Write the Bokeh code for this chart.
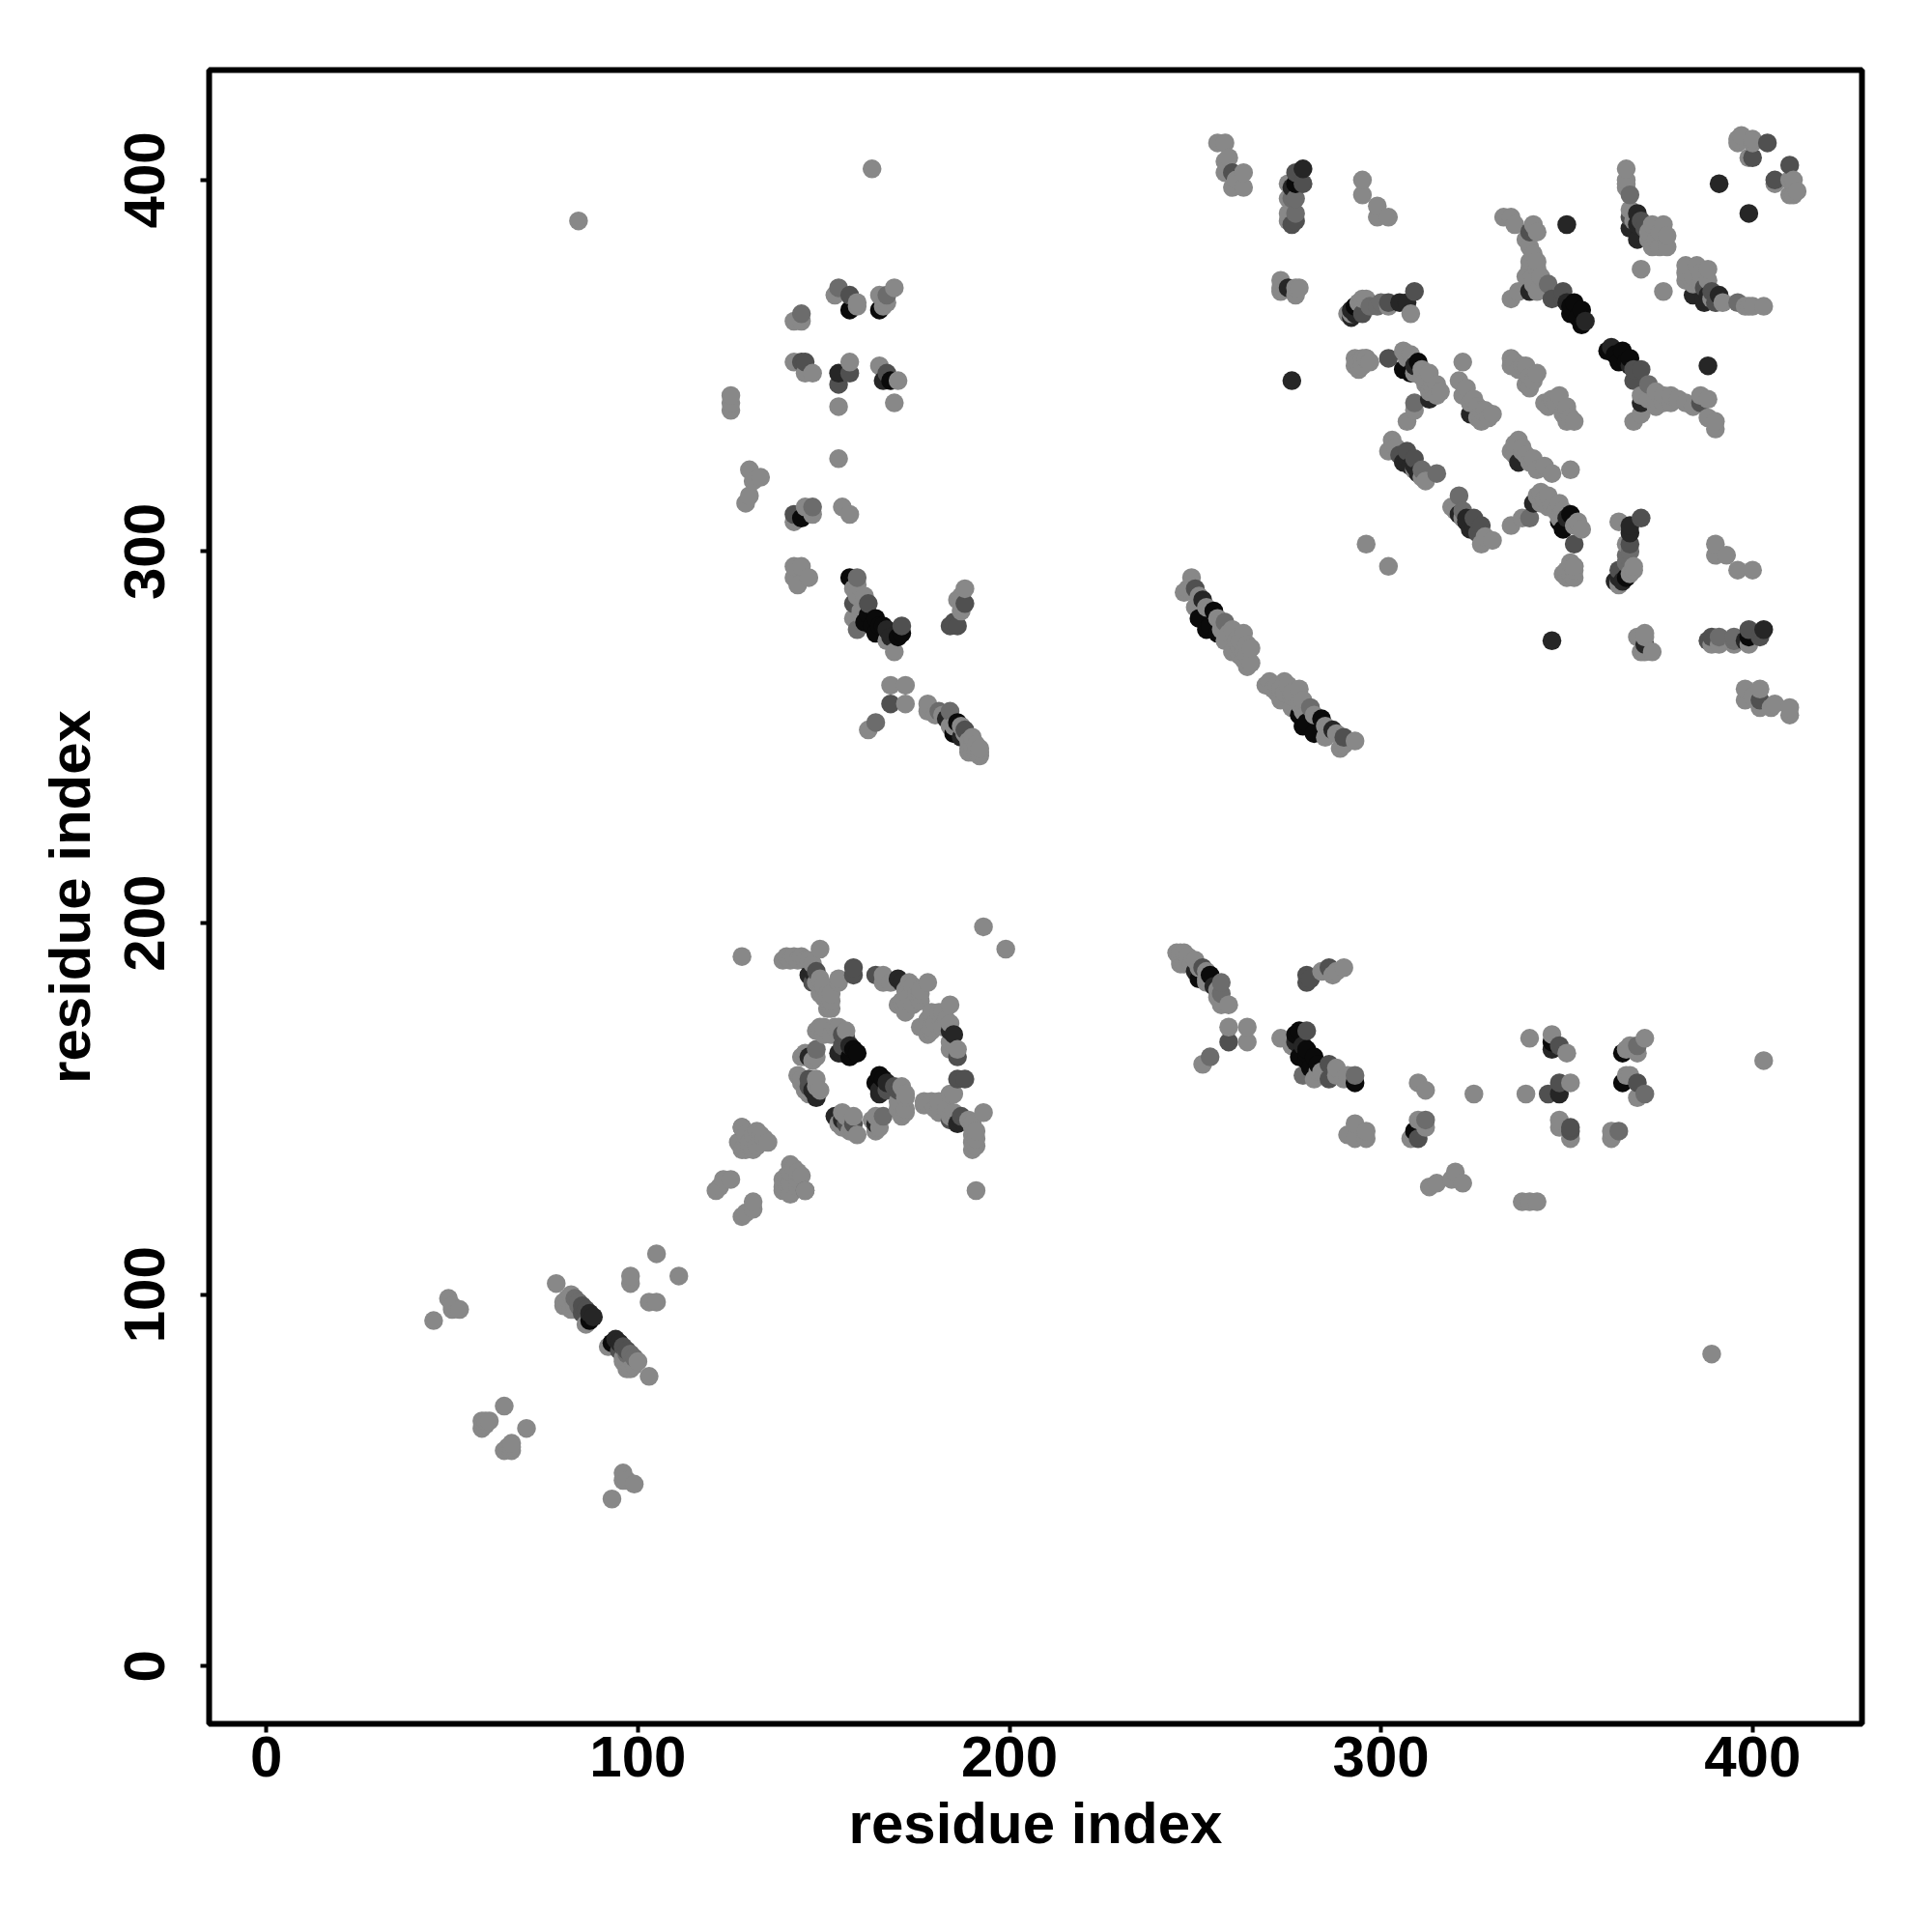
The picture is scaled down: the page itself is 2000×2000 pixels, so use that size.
from bokeh.plotting import figure
from bokeh.models import ColumnDataSource, FixedTicker
from bokeh.embed import file_html
from bokeh.resources import INLINE

tick_values = [0, 100, 200, 300, 400]
axis_title = "residue index"

# contacts (i < j), grouped by grey level; the map is symmetric
level_black = [(87,93),(157,365),(165,365),(144,309),(157,293),(164,282),(161,281),(166,280),(164,278),
    (171,278),(186,254),(185,251),(159,165),(157,164),(168,346),(277,399),(293,366),(352,367),(354,365),
    (351,364),(354,361),(310,351),(306,349),(308,348),(255,284),(251,282),(254,280),(256,278),(253,279),(165,280),
    (351,366),(353,363),(158,166),(162,283),(163,280),(170,277)]
level_22 = [(87,95),(88,94),(279,403),(350,388),(391,399),(276,346),(275,371),(340,370),(355,362),(368,387),
    (369,391),(369,384),(367,387),(307,367),(313,341),(306,324),(310,321),(309,323),(324,337),(252,287),
    (154,348),(146,186),(147,187),(171,184),(146,164),(148,153),(154,165),(166,346),(276,398),(292,363),
    (292,365),(155,165),(350,367),(369,388),(307,325),(308,323),(309,350),(157,167),(147,155),(170,185),
    (167,279),(168,277),(183,255),(187,250),(293,364),(305,367)]
level_55 = [(85,97),(86,96),(260,402),(277,402),(279,399),(277,389),(340,386),(349,370),(346,368),(367,390),
    (370,389),(295,364),(309,370),(302,352),(307,327),(309,325),(404,410),(400,406),(158,188),(158,186),
    (164,186),(155,170),(155,167),(146,158),(144,351),(145,351),(157,348),(167,348),(154,345),(142,310),
    (157,369),(158,286),(162,286),(171,280),(188,286),(184,280),(186,280),(168,259),(188,252),(276,388),
    (250,290),(302,367),(147,184),(349,368),(371,387),(305,326),(85,95),(148,187),(156,169),(146,156),(185,281)]
level_66 = [(83,99),(84,98),(277,395),(277,391),(367,396),(299,366),(345,372),(315,321),(154,371),(167,369),
    (144,364),(159,293),(159,279),(164,254),(181,257),(184,257),(147,312),(148,166),(258,281),(145,128),
    (276,395),(309,340),(84,97),(311,322),(297,366),(300,367)]
level_88 = [(45,93),(49,99),(50,97),(52,96),(50,96),(64,70),(58,66),(60,66),(58,64),(59,66),(59,65),
    (78,103),(80,98),(82,100),(81,99),(82,96),(86,92),(98,105),(98,103),(105,111),(84,389),(80,97),(83,97),(83,96),
    (121,128),(123,131),(125,131),(122,129),(128,145),(127,141),(133,143),(135,141),(130,141),(131,139),
    (128,139),(131,143),(128,191),(193,199),(163,403),(129,143),(130,140),(132,140),(133,141),(134,142),(129,139),(132,144),
    (153,369),(159,366),(159,367),(169,371),(165,369),(166,366),(167,367),(142,362),(144,362),(142,351),(145,348),(147,348),(157,351),
    (154,339),(169,340),(165,350),(170,346),(125,342),(125,340),(125,338),(154,325),(130,322),(133,320),
    (131,319),(130,315),(129,313),(142,308),(145,312),(147,310),(155,312),(157,310),(142,296),(144,296),
    (142,293),(146,293),(143,291),(158,290),(161,288),(158,282),(169,273),(167,276),(188,290),(186,287),
    (187,288),(168,264),(172,264),(172,259),(162,252),(178,259),(178,257),(184,253),(190,250),(192,247),
    (190,246),(191,248),(189,249),(160,284),(159,291),(159,288),(160,283),(187,284),
    (180,256),(182,256),(185,253),(187,253),(188,251),(189,247),(190,248),(191,246),(192,246),(189,246),(192,245),
    (139,190),(141,190),(143,190),(145,190),(140,191),(142,191),(144,191),(146,190),(149,185),(149,193),
    (152,181),(152,177),(154,184),(148,184),(166,186),(166,184),(173,184),(178,184),(175,181),(173,180),
    (172,179),(172,176),(151,181),(151,177),(153,172),(148,171),(150,172),(145,164),(144,164),(148,164),
    (143,159),(148,158),(149,155),(145,155),(144,158),(146,154),(149,172),
    (147,189),(150,183),(150,180),(152,179),(149,181),(154,172),(150,170),(152,170),(156,171),(145,165),(147,163),
    (144,157),(148,156),(168,184),(172,182),(174,183),(176,182),(170,178),(171,179),(174,178),(176,179),(176,181),(154,185),
    (256,410),(258,410),(259,406),(258,405),(258,402),(263,402),(260,398),(263,398),(261,400),
    (275,399),(275,395),(275,391),(275,389),(295,400),(295,396),(299,393),(299,390),(302,390),
    (333,390),(335,390),(336,388),(341,388),(342,386),(340,382),(340,378),(342,378),(341,374),(335,368),
    (337,370),(342,370),(366,403),(366,400),(373,388),(376,388),(377,385),(375,382),(372,384),(377,382),
    (339,384),(341,380),(340,376),(342,376),(339,374),(341,372),(343,374),(366,398),
    (368,389),(372,386),(374,384),(375,386),(373,382),
    (370,376),(367,392),(366,399),(397,412),(396,410),(400,410),(399,406),(400,411),(396,411),
    (273,373),(273,370),(277,371),(277,369),(292,364),(294,367),(295,368),(296,368),(302,366),(308,364),
    (294,351),(296,352),(294,349),(294,350),(295,352),(297,351),(306,354),(307,352),(309,348),(313,348),(315,345),(315,342),(309,338),
    (308,353),(311,349),(312,346),(311,347),(312,345),(313,343),(314,344),(316,343),
    (307,335),(322,351),(321,346),(322,342),(325,341),(328,338),(330,337),(327,335),(326,336),
    (323,344),(324,340),(326,339),(327,338),(329,336),
    (335,352),(338,350),(339,350),(342,348),(339,345),(335,350),(336,351),(337,349),(340,347),(341,346),(340,344),
    (303,330),(302,327),(309,322),(312,319),(304,328),(311,320),
    (296,302),(249,293),(248,290),(250,285),(260,279),(263,278),(264,275),(260,273),(264,272),(264,269),
    (263,271),(262,274),(261,276),(247,289),(293,350),(295,350),(293,352),(296,352),(291,364),
    (251,288),(253,285),(256,282),(257,279),(258,276),(262,276),(262,272),(265,270),(263,273),(265,274),(259,278),
    (278,371),(273,371)]

palette = {"black": "#0a0a0a", "22": "#262626", "55": "#505050", "66": "#6c6c6c", "88": "#888888"}
groups = [("black", level_black), ("22", level_22), ("55", level_55), ("66", level_66), ("88", level_88)]

points = []
for name, pairs in groups:
    for i, j in pairs:
        points.append((i, j, palette[name]))
        points.append((j, i, palette[name]))
points.sort(key=lambda t: (t[0], t[1]))

source = ColumnDataSource(dict(x=[t[0] for t in points], y=[t[1] for t in points], c=[t[2] for t in points]))

p = figure(width=1984, height=1984, output_backend="svg", toolbar_location=None,
           x_range=(-15.42, 429.45), y_range=(-15.52, 429.6),
           min_border_left=216, min_border_right=57, min_border_top=72, min_border_bottom=200)
p.scatter("x", "y", source=source, size=19.5, marker="circle", fill_color="c", line_color=None)

p.grid.visible = False
p.outline_line_color = "black"
p.outline_line_width = 6
p.background_fill_color = "white"
p.border_fill_color = "white"

for ax in (p.xaxis[0], p.yaxis[0]):
    ax.ticker = FixedTicker(ticks=tick_values)
    ax.minor_tick_line_color = None
    ax.axis_line_color = None
    ax.major_tick_line_color = "black"
    ax.major_tick_line_width = 4
    ax.major_tick_in = 0
    ax.major_tick_out = 9
    ax.major_label_text_font = "Liberation Sans"
    ax.major_label_text_font_style = "bold"
    ax.major_label_text_font_size = "60px"
    ax.major_label_text_color = "black"
    ax.axis_label = axis_title
    ax.axis_label_text_font = "Liberation Sans"
    ax.axis_label_text_font_style = "bold"
    ax.axis_label_text_font_size = "60px"
    ax.axis_label_text_color = "black"
p.yaxis[0].major_label_orientation = "vertical"
p.xaxis[0].major_label_standoff = 4
p.yaxis[0].major_label_standoff = 37
p.xaxis[0].axis_label_standoff = 12
p.yaxis[0].axis_label_standoff = 21

open("out.html", "w").write(file_html(p, INLINE))
